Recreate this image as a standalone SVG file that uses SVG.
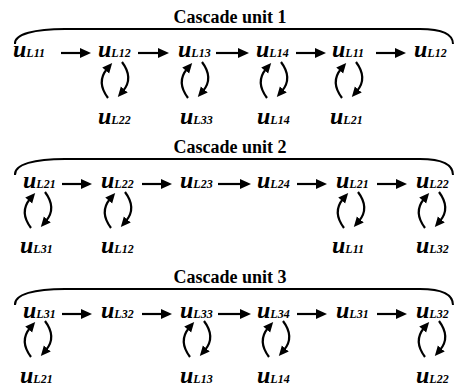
<svg xmlns="http://www.w3.org/2000/svg" width="454" height="391" viewBox="0 0 454 391">
<style>
.t{font-family:"Liberation Serif","Times New Roman",serif;font-weight:bold;font-size:18px;fill:#000}
.u{font-family:"Liberation Serif","Times New Roman",serif;font-weight:bold;font-style:italic;font-size:24px;fill:#000}
.s{font-size:12px}
.ln{stroke:#000;stroke-width:2.2;fill:none}
.br{stroke:#000;stroke-width:2;fill:none}
</style>
<defs>
<marker id="ah" markerUnits="userSpaceOnUse" markerWidth="12" markerHeight="10" refX="2" refY="5" orient="auto"><path d="M0,0 L11,5 L0,10 z" fill="#000"/></marker>
<marker id="ac" markerUnits="userSpaceOnUse" markerWidth="11" markerHeight="10" refX="2" refY="4.5" orient="auto"><path d="M0,0 L10,4.5 L0,9 z" fill="#000"/></marker>
<g id="cyc">
<path class="ln" d="M-7,18 Q-19,2 -8,-11" marker-end="url(#ac)"/>
<path class="ln" d="M7,-18 Q19,-2 8,11" marker-end="url(#ac)"/>
</g>
</defs>

<!-- titles and braces -->
<g id="unit1">
<text class="t" x="230" y="23" text-anchor="middle">Cascade unit 1</text>
<path class="br" d="M15,44 C14,34 35,29 65,29 L420,29 C440,29 453,33 453,44"/>
</g>
<g id="unit2">
<text class="t" x="230" y="153" text-anchor="middle">Cascade unit 2</text>
<path class="br" d="M15,175 C14,164 35,159 65,159 L420,159 C440,159 453,163 453,175"/>
</g>
<g id="unit3">
<text class="t" x="230" y="283" text-anchor="middle">Cascade unit 3</text>
<path class="br" d="M15,305 C14,294 35,289 65,289 L420,289 C440,289 453,293 453,305"/>
</g>

<!-- row 1 nodes -->
<g id="r1n1"><text class="u" x="13" y="57">u<tspan class="s">L11</tspan></text></g>
<g id="r1n2"><text class="u" x="98" y="57">u<tspan class="s">L12</tspan></text></g>
<g id="r1n3"><text class="u" x="178" y="57">u<tspan class="s">L13</tspan></text></g>
<g id="r1n4"><text class="u" x="256" y="57">u<tspan class="s">L14</tspan></text></g>
<g id="r1n5"><text class="u" x="332" y="57">u<tspan class="s">L11</tspan></text></g>
<g id="r1n6"><text class="u" x="414" y="57">u<tspan class="s">L12</tspan></text></g>
<g id="r1b1"><text class="u" x="98" y="124">u<tspan class="s">L22</tspan></text></g>
<g id="r1b2"><text class="u" x="180" y="124">u<tspan class="s">L33</tspan></text></g>
<g id="r1b3"><text class="u" x="257" y="124">u<tspan class="s">L14</tspan></text></g>
<g id="r1b4"><text class="u" x="330" y="124">u<tspan class="s">L21</tspan></text></g>

<!-- row 2 nodes -->
<g id="r2n1"><text class="u" x="23" y="188">u<tspan class="s">L21</tspan></text></g>
<g id="r2n2"><text class="u" x="101" y="188">u<tspan class="s">L22</tspan></text></g>
<g id="r2n3"><text class="u" x="180" y="188">u<tspan class="s">L23</tspan></text></g>
<g id="r2n4"><text class="u" x="257" y="188">u<tspan class="s">L24</tspan></text></g>
<g id="r2n5"><text class="u" x="336" y="188">u<tspan class="s">L21</tspan></text></g>
<g id="r2n6"><text class="u" x="416" y="188">u<tspan class="s">L22</tspan></text></g>
<g id="r2b1"><text class="u" x="20" y="253">u<tspan class="s">L31</tspan></text></g>
<g id="r2b2"><text class="u" x="101" y="253">u<tspan class="s">L12</tspan></text></g>
<g id="r2b3"><text class="u" x="332" y="253">u<tspan class="s">L11</tspan></text></g>
<g id="r2b4"><text class="u" x="416" y="253">u<tspan class="s">L32</tspan></text></g>

<!-- row 3 nodes -->
<g id="r3n1"><text class="u" x="23" y="318">u<tspan class="s">L31</tspan></text></g>
<g id="r3n2"><text class="u" x="101" y="318">u<tspan class="s">L32</tspan></text></g>
<g id="r3n3"><text class="u" x="180" y="318">u<tspan class="s">L33</tspan></text></g>
<g id="r3n4"><text class="u" x="257" y="318">u<tspan class="s">L34</tspan></text></g>
<g id="r3n5"><text class="u" x="336" y="318">u<tspan class="s">L31</tspan></text></g>
<g id="r3n6"><text class="u" x="416" y="318">u<tspan class="s">L32</tspan></text></g>
<g id="r3b1"><text class="u" x="20" y="383">u<tspan class="s">L21</tspan></text></g>
<g id="r3b2"><text class="u" x="180" y="383">u<tspan class="s">L13</tspan></text></g>
<g id="r3b3"><text class="u" x="257" y="383">u<tspan class="s">L14</tspan></text></g>
<g id="r3b4"><text class="u" x="416" y="383">u<tspan class="s">L22</tspan></text></g>

<!-- connectors -->
<g id="connectors">
<path class="ln" d="M61,53 H82" marker-end="url(#ah)"/>
<path class="ln" d="M138,53 H160" marker-end="url(#ah)"/>
<path class="ln" d="M216,53 H240" marker-end="url(#ah)"/>
<path class="ln" d="M296,53 H317" marker-end="url(#ah)"/>
<path class="ln" d="M376,53 H397" marker-end="url(#ah)"/>
<use href="#cyc" x="115" y="80"/>
<use href="#cyc" x="195" y="80"/>
<use href="#cyc" x="274" y="80"/>
<use href="#cyc" x="349" y="80"/>

<path class="ln" d="M62,184 H83" marker-end="url(#ah)"/>
<path class="ln" d="M142,184 H163" marker-end="url(#ah)"/>
<path class="ln" d="M218,184 H242" marker-end="url(#ah)"/>
<path class="ln" d="M297,184 H318" marker-end="url(#ah)"/>
<path class="ln" d="M377,184 H398" marker-end="url(#ah)"/>
<use href="#cyc" x="38" y="210"/>
<use href="#cyc" x="118" y="210"/>
<use href="#cyc" x="351" y="210"/>
<use href="#cyc" x="432" y="210"/>

<path class="ln" d="M62,314 H83" marker-end="url(#ah)"/>
<path class="ln" d="M142,314 H163" marker-end="url(#ah)"/>
<path class="ln" d="M218,314 H242" marker-end="url(#ah)"/>
<path class="ln" d="M297,314 H318" marker-end="url(#ah)"/>
<path class="ln" d="M377,314 H398" marker-end="url(#ah)"/>
<use href="#cyc" x="38" y="339"/>
<use href="#cyc" x="197" y="339"/>
<use href="#cyc" x="276" y="339"/>
<use href="#cyc" x="432" y="339"/>
</g>
</svg>
